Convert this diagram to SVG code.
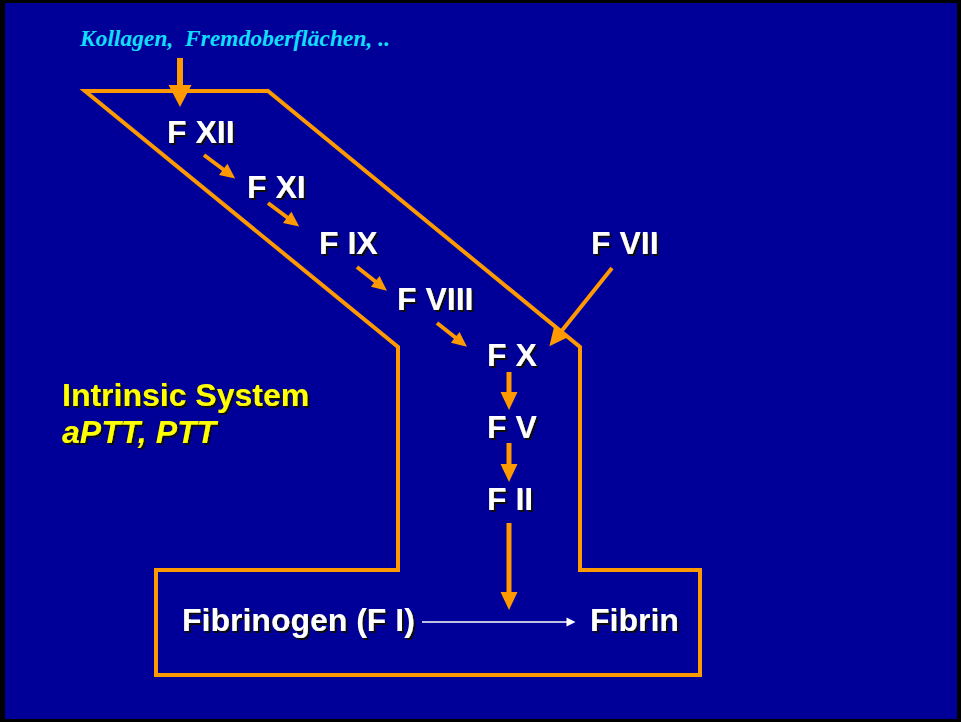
<svg xmlns="http://www.w3.org/2000/svg" width="961" height="722" viewBox="0 0 961 722">
<defs>
<style>
.bg{fill:#000099}
.frame{fill:none;stroke:#FF9900;stroke-width:4;stroke-linejoin:miter}
.arr{stroke:#FF9900;fill:none;stroke-linecap:butt}
.lbl{font-family:"Liberation Sans",Arial,sans-serif;font-weight:bold;font-size:32px;fill:#FFFFFF;filter:url(#sh)}
.yel{font-family:"Liberation Sans",Arial,sans-serif;font-weight:bold;font-size:32px;fill:#FFFF00;filter:url(#sh)}
.src{font-family:"Liberation Serif","Times New Roman",serif;font-weight:bold;font-style:italic;font-size:23.5px;fill:#11DDFF;white-space:pre}
</style>
<filter id="sh" x="-10%" y="-20%" width="130%" height="150%">
<feDropShadow dx="2" dy="2" stdDeviation="0" flood-color="#111111" flood-opacity="1"/>
</filter>
<marker id="hBig" markerUnits="userSpaceOnUse" markerWidth="26" markerHeight="26" viewBox="0 -13 26 26" refX="1" refY="0" orient="auto" overflow="visible">
<path d="M0,-11.5 L22,0 L0,11.5 Z" fill="#FF9900"/>
</marker>
<marker id="hMed" markerUnits="userSpaceOnUse" markerWidth="20" markerHeight="20" viewBox="0 -10 20 20" refX="1" refY="0" orient="auto" overflow="visible">
<path d="M0,-8.5 L18,0 L0,8.5 Z" fill="#FF9900"/>
</marker>
<marker id="hSm" markerUnits="userSpaceOnUse" markerWidth="16" markerHeight="16" viewBox="0 -8 16 16" refX="1" refY="0" orient="auto" overflow="visible">
<path d="M0,-7 L15,0 L0,7 Z" fill="#FF9900"/>
</marker>
<marker id="hW" markerUnits="userSpaceOnUse" markerWidth="10" markerHeight="10" viewBox="0 -5 10 10" refX="0.5" refY="0" orient="auto" overflow="visible">
<path d="M0,-4.5 L9,0 L0,4.5 Z" fill="#FFFFFF"/>
</marker>
</defs>
<rect x="0" y="0" width="961" height="722" fill="#000000"/>
<rect class="bg" x="5" y="3" width="952" height="716"/>

<g id="frame">
<path class="frame" d="M85,91 L268,91 L580,347 L580,570 L700,570 L700,675 L156,675 L156,570 L398,570 L398,347 Z"/>
</g>

<g id="connectors">
<line class="arr" x1="180" y1="58" x2="180" y2="86" stroke-width="6" marker-end="url(#hBig)"/>
<line class="arr" x1="204" y1="155" x2="224" y2="170" stroke-width="4" marker-end="url(#hSm)"/>
<line class="arr" x1="268" y1="203" x2="288" y2="218" stroke-width="4" marker-end="url(#hSm)"/>
<line class="arr" x1="357" y1="267" x2="376" y2="282" stroke-width="4" marker-end="url(#hSm)"/>
<line class="arr" x1="437" y1="323" x2="456" y2="338" stroke-width="4" marker-end="url(#hSm)"/>
<line class="arr" x1="612" y1="268" x2="560" y2="333" stroke-width="4" marker-end="url(#hMed)"/>
<line class="arr" x1="509" y1="372" x2="509" y2="393" stroke-width="5" marker-end="url(#hMed)"/>
<line class="arr" x1="509" y1="443" x2="509" y2="465" stroke-width="5" marker-end="url(#hMed)"/>
<line class="arr" x1="509" y1="523" x2="509" y2="593" stroke-width="5" marker-end="url(#hMed)"/>
<line x1="422" y1="622" x2="567" y2="622" stroke="#FFFFFF" stroke-width="1.5" marker-end="url(#hW)"/>
</g>

<g id="source"><text class="src" x="80" y="46">Kollagen,  Fremdoberflächen, ..</text></g>
<g id="fxii"><text class="lbl" x="167" y="143">F XII</text></g>
<g id="fxi"><text class="lbl" x="247" y="198">F XI</text></g>
<g id="fix"><text class="lbl" x="319" y="254">F IX</text></g>
<g id="fviii"><text class="lbl" x="397" y="310">F VIII</text></g>
<g id="fvii"><text class="lbl" x="591" y="254">F VII</text></g>
<g id="fx"><text class="lbl" x="487" y="366">F X</text></g>
<g id="fv"><text class="lbl" x="487" y="438">F V</text></g>
<g id="fii"><text class="lbl" x="487" y="510">F II</text></g>
<g id="fibrinogen"><text class="lbl" x="182" y="631">Fibrinogen (F I)</text></g>
<g id="fibrin"><text class="lbl" x="590" y="631">Fibrin</text></g>
<g id="intrinsic">
<text class="yel" x="62" y="406">Intrinsic System</text>
<text class="yel" x="62" y="443" font-style="italic">aPTT, PTT</text>
</g>
</svg>
